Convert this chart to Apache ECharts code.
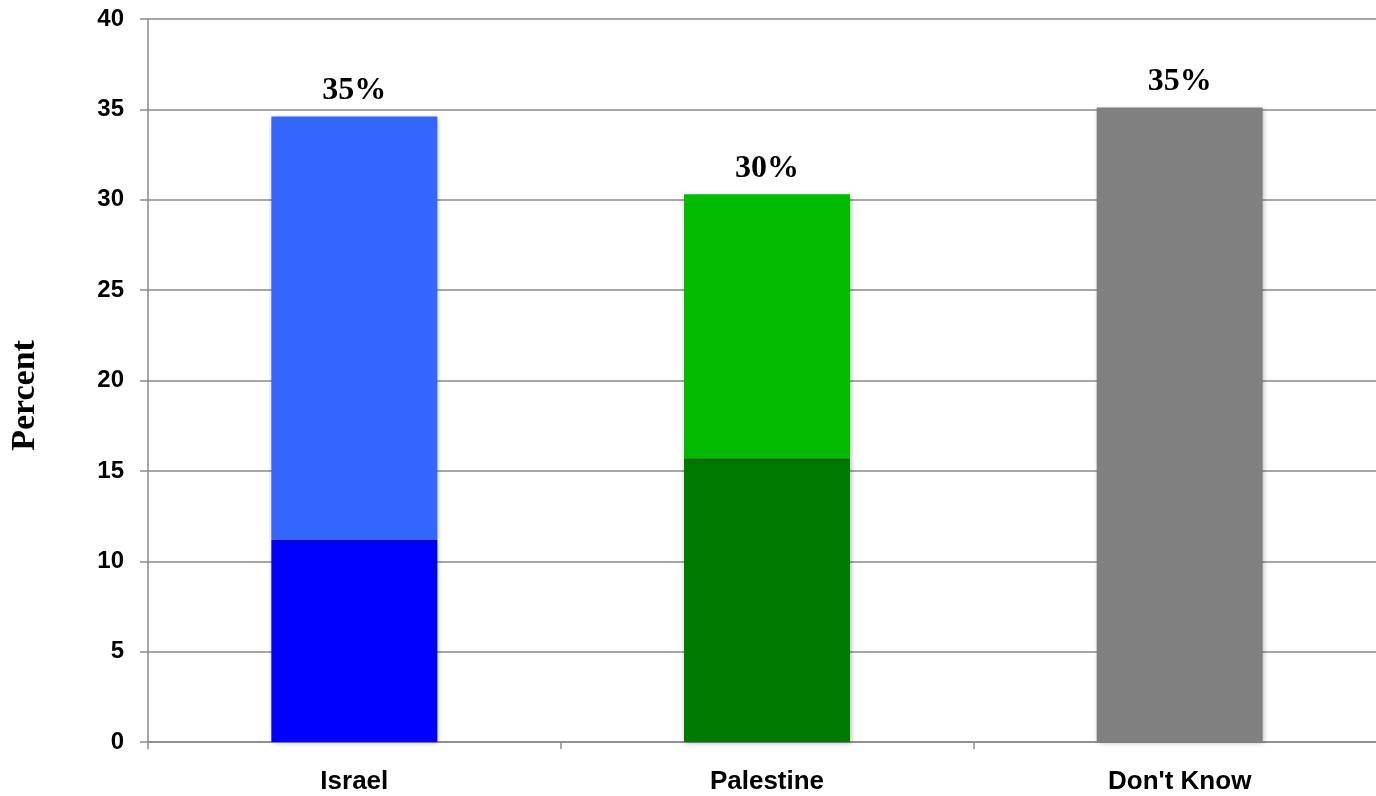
<!DOCTYPE html>
<html>
<head>
<meta charset="utf-8">
<script src="https://cdn.jsdelivr.net/npm/echarts@6/dist/echarts.min.js"></script>
<style>html,body{margin:0;padding:0;background:#fff}#c{width:1376px;height:796px}</style>
</head>
<body>
<div id="c"></div>
<script>
const categories = ["Israel", "Palestine", "Don't Know"];
const bottomValues = [11.2, 15.7, 0];
const topValues = [23.4, 14.6, 35.1];
const totalLabels = ["35%", "30%", "35%"];
const bottomColors = ["#0000FF", "#007A00", "#808080"];
const topColors = ["#3366FF", "#00BB00", "#808080"];
const yTicks = [0, 5, 10, 15, 20, 25, 30, 35, 40];

const shadow = {shadowBlur: 5, shadowColor: 'rgba(0,0,0,0.3)', shadowOffsetX: 1, shadowOffsetY: 1};
const chart = echarts.init(document.getElementById('c'), null, {renderer: 'canvas'});
chart.setOption({
  animation: false,
  backgroundColor: '#fff',
  grid: {left: 148, top: 19, bottom: 54, right: -10, containLabel: false, outerBoundsMode: 'none'},
  xAxis: {
    type: 'category',
    data: categories,
    axisLine: {lineStyle: {color: '#8a8a8a', width: 1.5}},
    axisTick: {show: true, length: 7, lineStyle: {color: '#8a8a8a', width: 1.5}},
    axisLabel: {color: '#000', fontFamily: 'Liberation Sans, Arial', fontWeight: 'bold', fontSize: 26, margin: 27}
  },
  yAxis: {
    type: 'value',
    min: yTicks[0], max: yTicks[yTicks.length - 1], interval: 5,
    name: 'Percent',
    nameLocation: 'middle',
    nameGap: 106,
    nameTextStyle: {color: '#000', fontFamily: 'Liberation Serif, Times New Roman', fontWeight: 'bold', fontSize: 34, padding: [0, 30, 0, 0]},
    axisLine: {show: true, lineStyle: {color: '#8a8a8a', width: 1.5}},
    axisTick: {show: true, length: 8, lineStyle: {color: '#8a8a8a', width: 1.5}},
    splitLine: {lineStyle: {color: '#8a8a8a', width: 1.5}},
    axisLabel: {color: '#000', fontFamily: 'Liberation Sans, Arial', fontWeight: 'bold', fontSize: 24, margin: 24}
  },
  series: [
    {
      type: 'bar', stack: 'total', barWidth: 166,
      data: bottomValues.map((v, i) => ({value: v === 0 ? '-' : v, itemStyle: Object.assign({color: bottomColors[i]}, shadow)}))
    },
    {
      type: 'bar', stack: 'total', barWidth: 166,
      data: topValues.map((v, i) => ({value: v, itemStyle: Object.assign({color: topColors[i]}, shadow)})),
      label: {
        show: true, position: 'top', distance: 10,
        formatter: p => totalLabels[p.dataIndex],
        color: '#000', fontFamily: 'Liberation Serif, Times New Roman', fontWeight: 'bold', fontSize: 32
      }
    }
  ]
});
</script>
</body>
</html>
